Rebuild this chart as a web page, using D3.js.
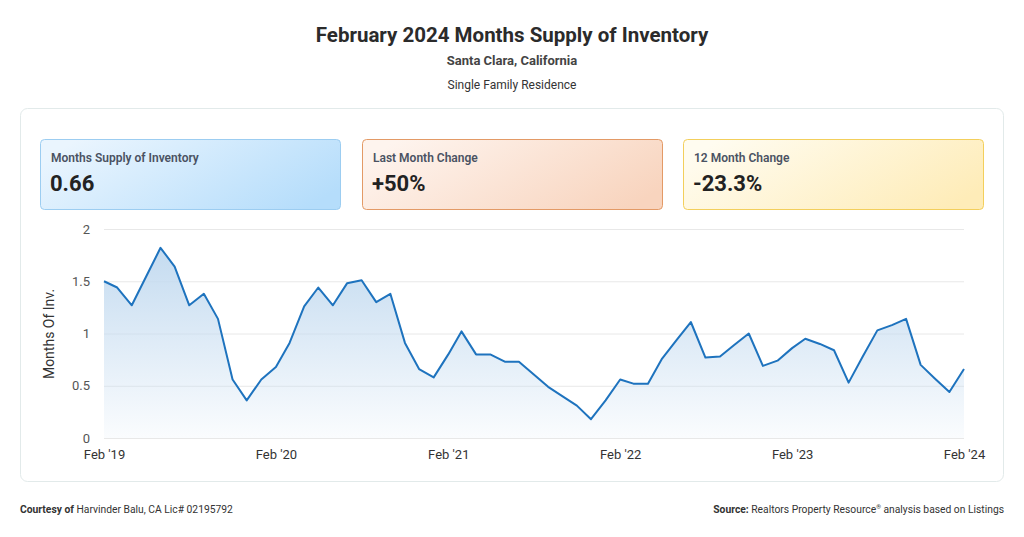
<!DOCTYPE html>
<html>
<head>
<meta charset="utf-8">
<script src="https://cdn.jsdelivr.net/npm/d3@7"></script>
<style>
  html, body { margin: 0; padding: 0; background: #fff; }
  svg { display: block; font-family: Roboto, "Noto Sans", sans-serif; }
</style>
</head>
<body>
<svg id="chart" width="1024" height="537"></svg>
<script>
// monthly values, Feb 2019 .. Feb 2024
const startMonth = new Date(2019, 1, 1);
const supply = [
  1.50, 1.44, 1.27, 1.54, 1.82, 1.64, 1.27, 1.38, 1.14, 0.56, 0.36,
  0.56, 0.68, 0.91, 1.26, 1.44, 1.27, 1.48, 1.51, 1.30, 1.38, 0.91, 0.66,
  0.58, 0.80, 1.02, 0.80, 0.80, 0.73, 0.73, 0.61, 0.49, 0.40, 0.31, 0.18,
  0.36, 0.56, 0.52, 0.52, 0.76, 0.94, 1.11, 0.77, 0.78, 0.89, 1.00, 0.69,
  0.74, 0.86, 0.95, 0.90, 0.84, 0.53, 0.78, 1.03, 1.08, 1.14, 0.70, 0.57,
  0.44, 0.66
];
const yTicks = [0, 0.5, 1, 1.5, 2];
const xTickYears = [2019, 2020, 2021, 2022, 2023, 2024];

const cardLabels = ['Months Supply of Inventory', 'Last Month Change', '12 Month Change'];
const cardValues = ['0.66', '+50%', '-23.3%'];
const cardStyles = [
  { from: '#eaf5fe', to: '#b5ddfb', stroke: '#9ccdf1' },
  { from: '#fef4ee', to: '#f8d4be', stroke: '#e39a66' },
  { from: '#fffcf0', to: '#feecb8', stroke: '#f3cf5c' }
];

const data = supply.map((v, i) => ({ date: d3.timeMonth.offset(startMonth, i), value: v }));

const svg = d3.select('#chart');
const defs = svg.append('defs');

// titles
svg.append('text').attr('x', 512).attr('y', 42).attr('text-anchor', 'middle')
  .attr('font-size', 20.5).attr('font-weight', 700).attr('fill', '#2b2b2b')
  .text('February 2024 Months Supply of Inventory');
svg.append('text').attr('x', 512).attr('y', 65).attr('text-anchor', 'middle')
  .attr('font-size', 13).attr('font-weight', 700).attr('fill', '#444')
  .text('Santa Clara, California');
svg.append('text').attr('x', 512).attr('y', 89).attr('text-anchor', 'middle')
  .attr('font-size', 12).attr('fill', '#333')
  .text('Single Family Residence');

// panel
svg.append('rect').attr('x', 20.5).attr('y', 108.5).attr('width', 983).attr('height', 373)
  .attr('rx', 7).attr('fill', '#fff').attr('stroke', '#e2eaea');

// cards
const cardX = [40, 362, 683];
cardStyles.forEach((s, i) => {
  const g = defs.append('linearGradient').attr('id', 'card' + i)
    .attr('x1', '0%').attr('y1', '30%').attr('x2', '100%').attr('y2', '70%');
  g.append('stop').attr('offset', '0%').attr('stop-color', s.from);
  g.append('stop').attr('offset', '100%').attr('stop-color', s.to);
});
const cards = svg.append('g').selectAll('g').data(cardLabels).join('g')
  .attr('transform', (d, i) => `translate(${cardX[i]},139)`);
cards.append('rect').attr('x', 0.5).attr('y', 0.5).attr('width', 300).attr('height', 70).attr('rx', 4)
  .attr('fill', (d, i) => `url(#card${i})`).attr('stroke', (d, i) => cardStyles[i].stroke);
cards.append('text').attr('x', 11).attr('y', 23).attr('font-size', 12).attr('font-weight', 600)
  .attr('fill', '#4a5262').text(d => d);
cards.append('text').attr('x', 10).attr('y', 52).attr('font-size', 22).attr('font-weight', 700)
  .attr('fill', '#222').text((d, i) => cardValues[i]);

// chart
const x = d3.scaleTime().domain([startMonth, d3.timeMonth.offset(startMonth, supply.length - 1)]).range([104, 964]);
const y = d3.scaleLinear().domain([0, 2]).range([438, 229]);

const grid = svg.append('g');
grid.selectAll('line').data(yTicks).join('line')
  .attr('x1', 104).attr('x2', 964)
  .attr('y1', d => y(d) + 0.5).attr('y2', d => y(d) + 0.5)
  .attr('stroke', '#e8e8e8');

const yAxis = svg.append('g').attr('transform', 'translate(90,0)')
  .call(d3.axisLeft(y).tickValues(yTicks).tickSize(0).tickPadding(0).tickFormat(d3.format('')));
yAxis.select('.domain').remove();
yAxis.selectAll('text').attr('font-family', 'Roboto, sans-serif').attr('font-size', 13).attr('fill', '#555');

const xAxis = svg.append('g').attr('transform', 'translate(0,447)')
  .call(d3.axisBottom(x).tickValues(xTickYears.map(yr => new Date(yr, 1, 1)))
    .tickSize(0).tickPadding(0).tickFormat(d3.timeFormat("Feb '%y")));
xAxis.select('.domain').remove();
xAxis.selectAll('text').attr('font-family', 'Roboto, sans-serif').attr('font-size', 13).attr('fill', '#333')
  .attr('dy', '0.9em');

svg.append('text').attr('transform', 'translate(54,334) rotate(-90)').attr('text-anchor', 'middle')
  .attr('font-size', 14).attr('fill', '#333').text('Months Of Inv.');

const ag = defs.append('linearGradient').attr('id', 'areaGrad').attr('x1', 0).attr('y1', 0).attr('x2', 0).attr('y2', 1);
ag.append('stop').attr('offset', '0%').attr('stop-color', '#c4dbf0');
ag.append('stop').attr('offset', '100%').attr('stop-color', '#c4dbf0').attr('stop-opacity', 0.08);

svg.append('path').datum(data)
  .attr('fill', 'url(#areaGrad)')
  .attr('d', d3.area().x(d => x(d.date)).y0(y(0)).y1(d => y(d.value)));

svg.append('path').datum(data)
  .attr('fill', 'none').attr('stroke', '#1e73be').attr('stroke-width', 2).attr('stroke-linejoin', 'round')
  .attr('d', d3.line().x(d => x(d.date)).y(d => y(d.value)));

// footer
const left = svg.append('text').attr('x', 20).attr('y', 513).attr('font-size', 10.3).attr('fill', '#333');
left.append('tspan').attr('font-weight', 700).text('Courtesy of ');
left.append('tspan').text('Harvinder Balu, CA Lic# 02195792');
const right = svg.append('text').attr('x', 1004).attr('y', 513).attr('text-anchor', 'end').attr('font-size', 10.3).attr('fill', '#333');
right.append('tspan').attr('font-weight', 700).text('Source: ');
right.append('tspan').text('Realtors Property Resource');
right.append('tspan').attr('font-size', 6).attr('dy', -4).text('®');
right.append('tspan').attr('dy', 4).text(' analysis based on Listings');
</script>
</body>
</html>
